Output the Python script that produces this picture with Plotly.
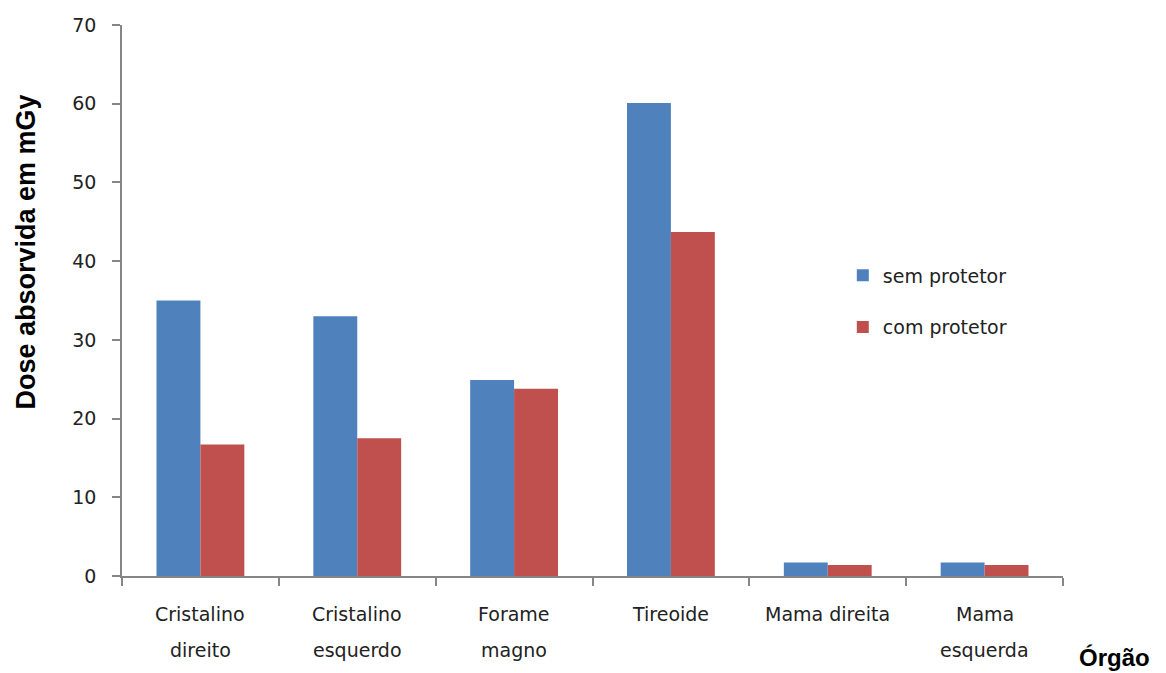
import plotly.graph_objects as go

categories = ["Cristalino direito", "Cristalino esquerdo", "Forame magno",
              "Tireoide", "Mama direita", "Mama esquerda"]
label_line1 = ["Cristalino", "Cristalino", "Forame", "Tireoide", "Mama direita", "Mama"]
label_line2 = ["direito", "esquerdo", "magno", "", "", "esquerda"]
sem_protetor = [35.0, 33.0, 24.9, 60.1, 1.7, 1.7]
com_protetor = [16.7, 17.5, 23.8, 43.7, 1.4, 1.4]
y_ticks = [0, 10, 20, 30, 40, 50, 60, 70]

FONT = "DejaVu Sans"
AX = "#868686"

fig = go.Figure()
fig.add_trace(go.Bar(x=categories, y=sem_protetor, name="sem protetor",
                     marker=dict(color="#4F81BD", line=dict(width=0)),
                     legendgroup="a"))
fig.add_trace(go.Bar(x=categories, y=com_protetor, name="com protetor",
                     marker=dict(color="#C0504D", line=dict(width=0)),
                     legendgroup="b"))

for c, l1, l2 in zip(categories, label_line1, label_line2):
    fig.add_annotation(x=c, y=0, xref="x", yref="y", text=l1, showarrow=False,
                       yshift=-38, font=dict(family=FONT, size=19, color="#222"))
    if l2:
        fig.add_annotation(x=c, y=0, xref="x", yref="y", text=l2, showarrow=False,
                           yshift=-74, font=dict(family=FONT, size=19, color="#222"))

fig.add_annotation(x=1.0, y=0, xref="paper", yref="y", text="<b>Órgão</b>",
                   showarrow=False, xanchor="left", xshift=14, yshift=-81,
                   font=dict(family="Liberation Sans", size=24, color="#000"))

fig.add_annotation(x=0, y=0.587, xref="paper", yref="paper",
                   text="<b>Dose absorvida em mGy</b>", textangle=-90,
                   showarrow=False, xanchor="center", yanchor="middle", xshift=-96,
                   font=dict(family="Liberation Sans", size=27, color="#000"))

fig.update_layout(
    width=1166, height=673,
    margin=dict(l=122, r=103, t=25, b=97),
    paper_bgcolor="white", plot_bgcolor="white",
    barmode="group", bargap=0.44, bargroupgap=0,
    showlegend=True,
    legend=dict(x=0.766, y=0.58, xanchor="left", yanchor="top",
                font=dict(family=FONT, size=19, color="#222"),
                tracegroupgap=24, bgcolor="rgba(0,0,0,0)"),
    xaxis=dict(showticklabels=False, tickson="boundaries", ticks="outside",
               ticklen=8, tickcolor=AX, tickwidth=1.5, showline=True,
               linecolor=AX, linewidth=1.5, showgrid=False, zeroline=False),
    yaxis=dict(range=[0, 70], tickvals=y_ticks, ticks="outside", ticklen=8,
               tickcolor=AX, tickwidth=1.5, showline=True, linecolor=AX,
               linewidth=1.5, showgrid=False, zeroline=False,
               ticklabelstandoff=12,
               tickfont=dict(family=FONT, size=19, color="#222")),
)

fig.write_html("out.html")
